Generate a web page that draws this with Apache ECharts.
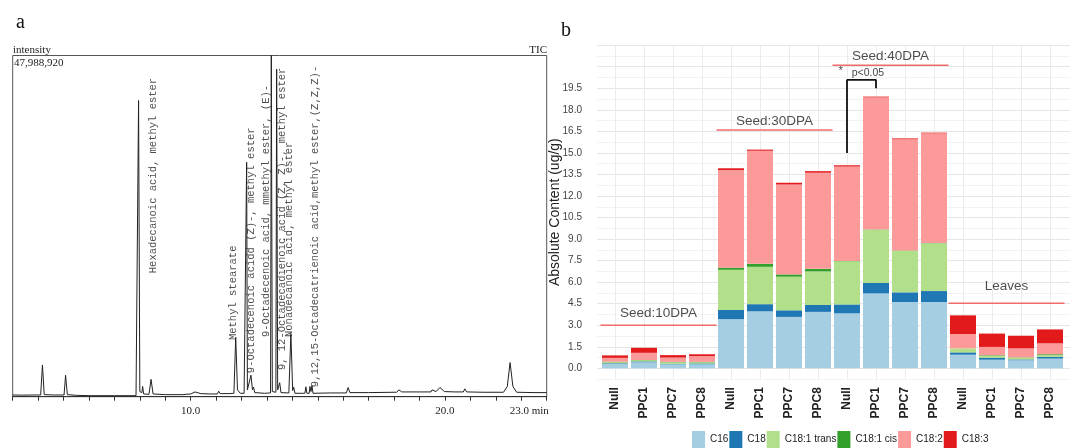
<!DOCTYPE html>
<html><head><meta charset="utf-8">
<script src="https://cdn.jsdelivr.net/npm/echarts@6/dist/echarts.min.js"></script>
<style>html,body{margin:0;padding:0;background:#fff}#c{width:1072px;height:448px}</style>
</head><body><div id="c"></div>
<script>
// ================= Panel a : GC-MS total ion chromatogram =================
// [retention time (min), intensity (% of full scale 47,988,920)]
const ticTrace = [
  [3.0,0.5],[3.4,0.45],[3.8,0.5],
  [4.10,0.5],[4.17,9.3],[4.24,0.6],[4.6,0.5],
  [5.02,0.5],[5.08,6.3],[5.15,0.6],[5.5,0.4],[6.0,0.3],[7.0,0.3],[7.85,0.3],
  [7.90,0.4],[7.95,86.8],[8.00,1.5],[8.08,1.2],[8.11,3.0],[8.15,0.8],
  [8.36,0.7],[8.44,5.1],[8.52,0.8],[9.0,0.6],
  [9.70,0.6],[9.76,1.1],[9.82,0.7],[10.0,0.8],[10.17,1.4],[10.4,0.9],[10.8,0.8],
  [11.05,0.8],[11.10,1.6],[11.16,0.9],[11.5,0.9],
  [11.70,1.0],[11.77,17.4],[11.84,2.0],[11.90,2.5],[11.95,1.0],[12.1,1.0],
  [12.17,1.1],[12.20,68.7],[12.23,2.0],
  [12.30,1.5],[12.37,6.3],[12.43,2.0],[12.47,2.8],[12.52,1.2],[12.9,1.0],
  [13.14,1.1],[13.17,100],[13.21,1.5],
  [13.35,1.3],[13.38,96],[13.42,2.0],[13.47,1.5],[13.50,4.1],[13.55,1.2],
  [13.86,1.1],[13.94,18.5],[14.01,1.8],[14.05,2.8],[14.10,1.0],[14.4,1.0],
  [14.49,1.0],[14.53,2.9],[14.57,1.0],[14.66,1.0],[14.69,3.0],[14.73,1.5],[14.77,3.2],[14.81,1.0],
  [15.5,1.1],[16.12,1.1],[16.19,2.7],[16.26,1.2],[17.0,1.2],[18.0,1.3],
  [18.10,1.3],[18.19,2.0],[18.30,1.4],[19.0,1.4],
  [19.45,1.4],[19.49,2.0],[19.53,1.5],[19.65,1.5],[19.80,2.7],[19.98,1.5],[20.4,1.4],
  [20.72,1.4],[20.78,2.3],[20.85,1.4],[21.5,1.3],
  [22.30,1.3],[22.45,3.0],[22.56,10.0],[22.67,3.0],[22.82,1.3],[23.5,1.2],[24.0,1.2]
];
const peakNames = [
  'Hexadecanoic acid, methyl ester',
  'Methyl stearate',
  '9-Octadecenoic acidd (Z)-, methyl ester',
  '9-Octadecenoic acid, mmethyl ester, (E)-',
  '9, 12-Octadecadienoic acid (Z, Z)-, methyl ester',
  'Nonadecanoic acid, methyl ester',
  '9,12,15-Octadecatrienoic acid,methyl ester,(Z,Z,Z)-'
];
const peakLabelTime   = [8.52, 11.66, 12.37, 12.98, 13.59, 13.87, 14.89];
const peakLabelHeight = [36.2, 16.6, 6.9, 17.5, 7.8, 17.5, 2.8];
const timeTickLabels = {10: '10.0', 20: '20.0', 23: '23.0 min'};

// ================= Panel b : fatty acid content =================
const stages = ['Seed:10DPA', 'Seed:30DPA', 'Seed:40DPA', 'Leaves'];
const lines = ['Null', 'PPC1', 'PPC7', 'PPC8'];
const fattyAcids = ['C16', 'C18', 'C18:1 trans', 'C18:1 cis', 'C18:2', 'C18:3'];
const C16      = [0.30,0.42,0.28,0.28, 3.43,3.97,3.58,3.93, 3.83,5.22,4.62,4.62, 0.95,0.60,0.56,0.68];
const C18      = [0.05,0.06,0.04,0.06, 0.63,0.50,0.46,0.48, 0.62,0.72,0.67,0.76, 0.16,0.14,0.06,0.12];
const C18_1t   = [0.08,0.08,0.10,0.08, 2.80,2.60,2.34,2.34, 3.00,3.71,2.90,3.32, 0.28,0.13,0.12,0.12];
const C18_1c   = [0.03,0.02,0.03,0.03, 0.15,0.21,0.16,0.18, 0.02,0.02,0.02,0.02, 0.00,0.04,0.02,0.06];
const C18_2    = [0.27,0.50,0.30,0.40, 6.80,7.87,6.26,6.69, 6.58,9.20,7.75,7.64, 1.00,0.58,0.63,0.76];
const C18_3    = [0.17,0.35,0.17,0.13, 0.12,0.08,0.12,0.11, 0.09,0.05,0.05,0.05, 1.30,0.93,0.88,0.97];
const faColors = ['#a6cee3','#1f78b4','#b2df8a','#33a02c','#fb9a99','#e31a1c'];
const stageLineY = [3.0, 16.6, 21.1, 4.53];
const stageTextY = [3.82, 17.17, 21.7, 5.68];
const sigBracketX = [8, 8, 9, 9];
const sigBracketY = [15.0, 20.08, 20.08, 19.5];
const sigText = {label: 'p<0.05', x: 8.72, y: 20.54};
const sigStar = {label: '*', x: 7.79, y: 20.72};
const yMin = -0.75, yMax = 22.5, yStep = 0.75, yLabelMax = 19.5;

// ---------------------------------------------------------------
const faSeries = [C16, C18, C18_1t, C18_1c, C18_2, C18_3];
const categories = [];
stages.forEach((s, gi) => lines.forEach(l => categories.push(l + '#' + gi)));

const serif = 'Liberation Serif';
const sans = '"Liberation Sans", Arial';

const series = [];
// chromatogram
series.push({type:'line', xAxisIndex:0, yAxisIndex:0, data: ticTrace, symbol:'none',
  lineStyle:{width:1, color:'#222'}, silent:true, animation:false});
series.push({type:'scatter', xAxisIndex:0, yAxisIndex:0, symbolSize:1,
  itemStyle:{color:'rgba(0,0,0,0)'}, silent:true,
  data: peakNames.map((n,i)=>({name:n, value:[peakLabelTime[i], peakLabelHeight[i]]})),
  label:{show:true, formatter:'{b}', position:'inside', align:'left', verticalAlign:'middle', rotate:90,
    fontFamily:'"Liberation Mono", monospace', fontSize:10.5, color:'#222'}});
// bars
fattyAcids.forEach((fa, k) => series.push({type:'bar', name:fa, stack:'total', xAxisIndex:3, yAxisIndex:3,
  data: faSeries[k], barWidth:26, itemStyle:{color:faColors[k]}, silent:true}));
// stage lines and texts
stages.forEach((s, gi) => series.push({type:'line', xAxisIndex:4, yAxisIndex:3, clip:false, symbol:'none', silent:true,
  data:[[gi*4-0.5, stageLineY[gi]],[gi*4+3.5, stageLineY[gi]]], lineStyle:{color:'#f26b6b', width:1.5}}));
series.push({type:'scatter', xAxisIndex:4, yAxisIndex:3, symbolSize:1, itemStyle:{color:'rgba(0,0,0,0)'}, silent:true,
  data: stages.map((s,gi)=>({name:s, value:[gi*4+1.5, stageTextY[gi]]})),
  label:{show:true, formatter:'{b}', position:'inside', fontFamily:sans, fontSize:13.5, color:'#222'}});
// significance bracket
series.push({type:'line', xAxisIndex:4, yAxisIndex:3, symbol:'none', silent:true, clip:false,
  data: sigBracketX.map((x,i)=>[x, sigBracketY[i]]), lineStyle:{color:'#111', width:1.8}});
series.push({type:'scatter', xAxisIndex:4, yAxisIndex:3, symbolSize:1, itemStyle:{color:'rgba(0,0,0,0)'}, silent:true,
  data:[{name:sigText.label, value:[sigText.x, sigText.y]},{name:sigStar.label, value:[sigStar.x, sigStar.y]}],
  label:{show:true, formatter:'{b}', position:'inside', fontFamily:sans, fontSize:10.5, color:'#111'}});

const gTop = 45.2, gBottom = 448 - 379.1;
const option = {
  animation:false,
  backgroundColor:'#fff',
  title:[
    {text:'a', left:16, top:13, padding:0, textStyle:{fontFamily:serif, fontSize:20, fontWeight:'normal', color:'#111'}},
    {text:'b', left:561, top:21, padding:0, textStyle:{fontFamily:serif, fontSize:20, fontWeight:'normal', color:'#111'}},
    {text:'intensity', left:13, top:45, padding:0, textStyle:{fontFamily:serif, fontSize:11, fontWeight:'normal', color:'#222'}},
    {text:'TIC', right:525, top:45, padding:0, textStyle:{fontFamily:serif, fontSize:11, fontWeight:'normal', color:'#222'}},
    {text:'47,988,920', left:14, top:57.5, padding:0, textStyle:{fontFamily:serif, fontSize:11, fontWeight:'normal', color:'#222'}}
  ],
  legend:{data:fattyAcids, icon:'rect', left:692, top:431, itemWidth:13, itemHeight:17, itemGap:1, padding:0,
    selectedMode:false, textStyle:{fontFamily:sans, fontSize:10, color:'#222'}},
  grid:[
    {left:12.7, right:1072-546.7, top:55.5, bottom:448-396.7, show:true, borderColor:'#555', borderWidth:1},
    {left:597, right:2, top:gTop, bottom:gBottom},
    {left:615, right:1072-1050, top:gTop, bottom:gBottom},
    {left:600.5, right:7.5, top:gTop, bottom:gBottom}
  ],
  xAxis:[
    {type:'value', gridIndex:0, min:3, max:24, interval:1,
      axisLine:{show:true, lineStyle:{color:'#333'}}, axisTick:{show:true, length:4, lineStyle:{color:'#333'}},
      splitLine:{show:false},
      axisLabel:{margin:9, fontFamily:serif, fontSize:11, color:'#222',
        formatter:v => v===23 ? '{p|}{t|23.0 min}' : (timeTickLabels[v] || ''),
        rich:{p:{width:16}, t:{fontFamily:serif, fontSize:11, color:'#222'}}}},
    {type:'value', gridIndex:1, min:0, max:1, show:false},
    {type:'value', gridIndex:2, min:0, max:15, interval:1, axisLine:{show:false}, axisTick:{show:false}, axisLabel:{show:false},
      splitLine:{show:true, lineStyle:{color:'#ebebeb', width:1}}},
    {type:'category', gridIndex:3, data:categories, axisLine:{show:false}, axisTick:{show:false},
      axisLabel:{interval:0, rotate:90, margin:8, fontFamily:sans, fontSize:12, fontWeight:'bold', color:'#222',
        formatter:v => v.split('#')[0]}},
    {type:'value', gridIndex:3, min:-0.5, max:15.5, show:false}
  ],
  yAxis:[
    {type:'value', gridIndex:0, min:0, max:100, show:false},
    {type:'value', gridIndex:1, min:yMin, max:yMax, interval:yStep,
      axisLine:{show:false}, axisTick:{show:false},
      splitLine:{show:true, lineStyle:{color:['#f3f3f3','#e6e6e6'], width:1}},
      axisLabel:{margin:15, fontFamily:sans, fontSize:10, color:'#444',
        formatter:v => { const k = Math.round((v - yMin)/yStep); return (v < 0 || v > yLabelMax + 1e-6 || k % 2 === 0) ? '' : v.toFixed(1); }},
      name:'Absolute Content (ug/g)', nameLocation:'middle', nameGap:35, nameRotate:90, nameMoveOverlap:false,
      nameTextStyle:{fontFamily:sans, fontSize:14, color:'#222'}},
    {type:'value', gridIndex:2, min:yMin, max:yMax, show:false},
    {type:'value', gridIndex:3, min:yMin, max:yMax, show:false}
  ],
  series
};
const chart = echarts.init(document.getElementById('c'), null, {renderer:'canvas'});
chart.setOption(option);
</script></body></html>
